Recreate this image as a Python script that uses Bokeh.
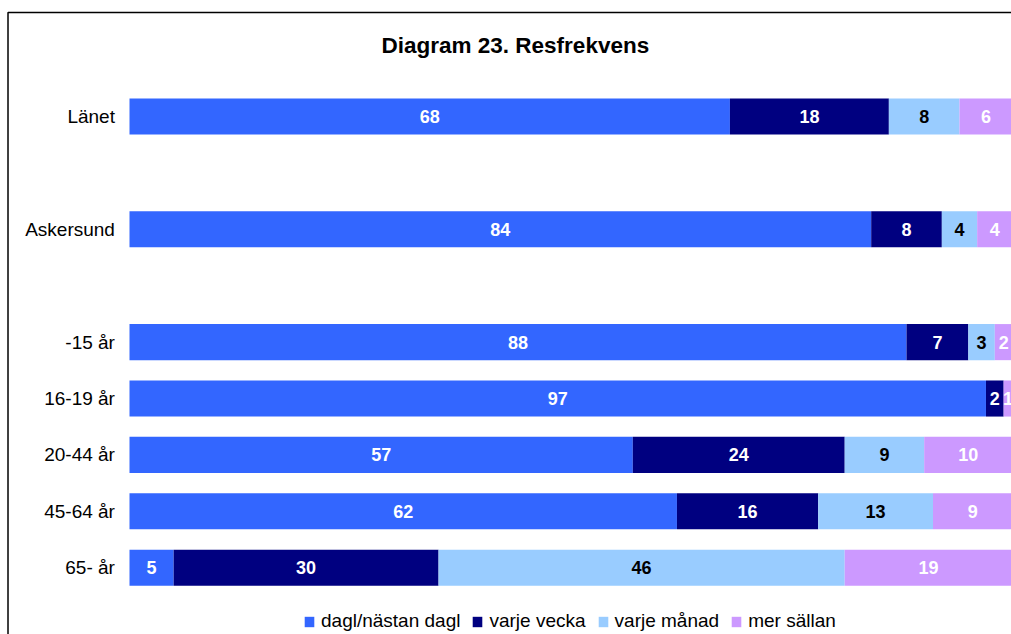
import numpy as np
from bokeh.plotting import figure
from bokeh.models import ColumnDataSource, Range1d, Legend, LegendItem
from bokeh.core.properties import value
from bokeh.embed import file_html
from bokeh.resources import INLINE

title = "Diagram 23. Resfrekvens"
# rows from top to bottom; empty strings are gap rows
categories = ["Länet", "", "Askersund", "", "-15 år", "16-19 år", "20-44 år", "45-64 år", "65- år"]
series_names = ["dagl/nästan dagl", "varje vecka", "varje månad", "mer sällan"]
dagl = [68, None, 84, None, 88, 97, 57, 62, 5]
vecka = [18, None, 8, None, 7, 2, 24, 16, 30]
manad = [8, None, 4, None, 3, 0, 9, 13, 46]
sallan = [6, None, 4, None, 2, 1, 10, 9, 19]
colors = ["#3366FF", "#000080", "#99CCFF", "#CC99FF"]
label_colors = ["white", "white", "black", "white"]

FONT_NAME = "Liberation Sans"
FONT = value(FONT_NAME)

rows = [i for i, c in enumerate(categories) if c]
ypos = np.array(rows, dtype=float)
vals = np.array([[dagl[i], vecka[i], manad[i], sallan[i]] for i in rows], dtype=float)
cum = np.cumsum(vals, axis=1)
lefts = cum - vals

X0, X1 = -14.61, 99.89
Y_BOTTOM, Y_TOP = 9.184, -2.057
p = figure(width=1011, height=634, output_backend="svg", toolbar_location=None,
           x_axis_type=None, y_axis_type=None,
           x_range=Range1d(X0, X1), y_range=Range1d(Y_BOTTOM, Y_TOP),
           min_border=0, min_border_left=0, min_border_right=0,
           min_border_top=0, min_border_bottom=0)
p.grid.visible = False
p.outline_line_color = None
p.background_fill_color = "white"
p.border_fill_color = "white"

renderers = []
for k in range(4):
    src = ColumnDataSource(dict(y=ypos, left=lefts[:, k], right=cum[:, k]))
    r = p.hbar(y="y", left="left", right="right", height=0.64, source=src,
               fill_color=colors[k], line_color=None)
    renderers.append(r)

# value labels
lx, ly, lt, lc = [], [], [], []
for j in range(len(rows)):
    for k in range(4):
        v = vals[j, k]
        if v > 0:
            lx.append(lefts[j, k] + v / 2)
            ly.append(ypos[j])
            lt.append(str(int(v)))
            lc.append(label_colors[k])
p.text(x="x", y="y", text="t", text_color="c",
       source=ColumnDataSource(dict(x=lx, y=ly, t=lt, c=lc)),
       text_font=FONT, text_font_size="18px", text_font_style="bold",
       text_align="center", text_baseline="middle")

# category labels
p.text(x=[-1.65] * len(rows), y=ypos, text=[categories[i] for i in rows],
       text_font=FONT, text_font_size="19px", text_color="black",
       text_align="right", text_baseline="middle")

# title
p.text(x=[43.7], y=[-1.259], text=[title], text_font=FONT, text_font_size="22.5px",
       text_font_style="bold", text_color="black",
       text_align="center", text_baseline="middle")

# chart area border (top and left edges of the chart box)
bx, by = -13.76, -1.844
p.line(x=[bx, bx, X1 + 5], y=[Y_BOTTOM + 1, by, by], line_color="black", line_width=1.5)

legend = Legend(items=[LegendItem(label=series_names[k], renderers=[renderers[k]]) for k in range(4)],
                orientation="horizontal", location=(303, 2),
                glyph_width=12, glyph_height=13, label_standoff=6, spacing=11,
                padding=0, margin=0, border_line_color=None, background_fill_alpha=0,
                label_text_font=FONT_NAME, label_text_font_size="19px", label_text_color="black",
                label_height=21)
p.add_layout(legend)

open("out.html", "w").write(file_html(p, INLINE))
